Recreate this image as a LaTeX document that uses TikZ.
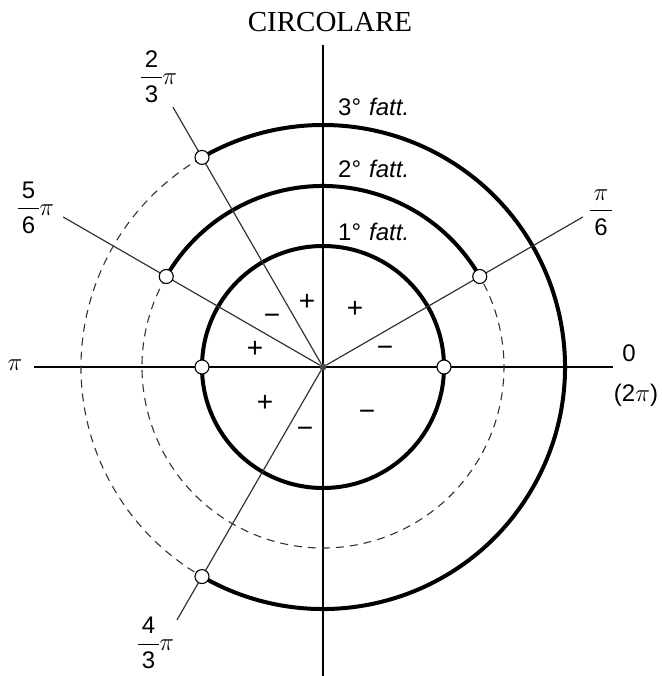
\documentclass[tikz,border=0pt]{standalone}
\usepackage{fontspec}
\setmainfont{Liberation Sans}
\newfontfamily\titlefont{Liberation Serif}
\usetikzlibrary{positioning}
\newcommand{\frc}[2]{{\renewcommand{\arraystretch}{1.2}\setlength{\arrayrulewidth}{1pt}%
  \begin{tabular}{@{\,}c@{\,}}#1\\\hline #2\end{tabular}}}

\begin{document}
\begin{tikzpicture}[x=1pt,y=1pt,
    thk/.style={line width=4pt},
    dsh/.style={line width=1.1pt,dash pattern=on 8pt off 6pt,black!80},
    axis/.style={line width=1.4pt},
    ray/.style={line width=1.2pt,black!80},
    dotc/.style={circle,draw,fill=white,line width=1.1pt,minimum size=14pt,inner sep=0pt},
    lbl/.style={font=\fontsize{24}{28}\selectfont,inner sep=0pt},
    sgn/.style={font=\fontsize{28}{30}\selectfont,inner sep=0pt},
]
\useasboundingbox (-323,-309) rectangle (338,367);

% Axes
\coordinate (xl) at (-289,0);
\coordinate (xr) at (290,0);
\coordinate (yt) at (0,322);
\coordinate (yb) at (0,-309);
\draw[axis] (xl) -- (xr);
\draw[axis] (yt) -- (yb);

% Circles of the three factors
\draw[thk] (0,0) circle (121);
\draw[thk] (30:181) arc (30:150:181);
\draw[dsh] (150:181) arc (150:390:181);
\draw[thk] (-120:242) arc (-120:120:242);
\draw[dsh] (120:242) arc (120:240:242);

% Rays
\node[circle,fill=black!70,minimum size=7pt,inner sep=0pt] (o) at (0,0) {};
\coordinate (e30) at (30:300);
\coordinate (e150) at (150:300);
\coordinate (e120) at (120:300);
\coordinate (e240) at (240:292);
\draw[ray] (o) -- (e30);
\draw[ray] (o) -- (e150);
\draw[ray] (o) -- (e120);
\draw[ray] (o) -- (e240);

% Roots
\node[dotc] (r0) at (0:121) {};
\node[dotc] (rpi) at (180:121) {};
\node[dotc] (r30) at (30:181) {};
\node[dotc] (r150) at (150:181) {};
\node[dotc] (r120) at (120:242) {};
\node[dotc] (r240) at (240:242) {};

% Labels
\node[font=\titlefont\fontsize{29}{32}\selectfont,inner sep=0pt] (title) at (7,345) {CIRCOLARE};
\node[lbl,anchor=west] (f3) at (15,260) {3°\,\,\textit{fatt.}};
\node[lbl,anchor=west] (f2) at (15,198) {2°\,\,\textit{fatt.}};
\node[lbl,anchor=west] (f1) at (15,135) {1°\,\,\textit{fatt.}};

\node[lbl] (a120) at (-164,289) {\frc{2}{3}$\pi$};
\node[lbl] (a150) at (-287,158) {\frc{5}{6}$\pi$};
\node[lbl] (a30) at (278,156) {\frc{$\pi$}{6}};
\node[lbl] (a240) at (-167,-277) {\frc{4}{3}$\pi$};
\node[lbl,font=\fontsize{30}{32}\selectfont] (api) at (-308,2) {$\pi$};
\node[lbl] (a0) at (306,14) {0};
\node[lbl] (a2pi) at (313,-28) {(2$\pi$)};

% Signs
\node[sgn] (s1) at (-16,65) {+};
\node[sgn] (s2) at (32,58) {+};
\node[sgn] (s3) at (-51,48) {−};
\node[sgn] (s4) at (-68,18) {+};
\node[sgn] (s5) at (62,16) {−};
\node[sgn] (s6) at (-58,-36) {+};
\node[sgn] (s7) at (-18,-65) {−};
\node[sgn] (s8) at (44,-48) {−};
\end{tikzpicture}
\end{document}
